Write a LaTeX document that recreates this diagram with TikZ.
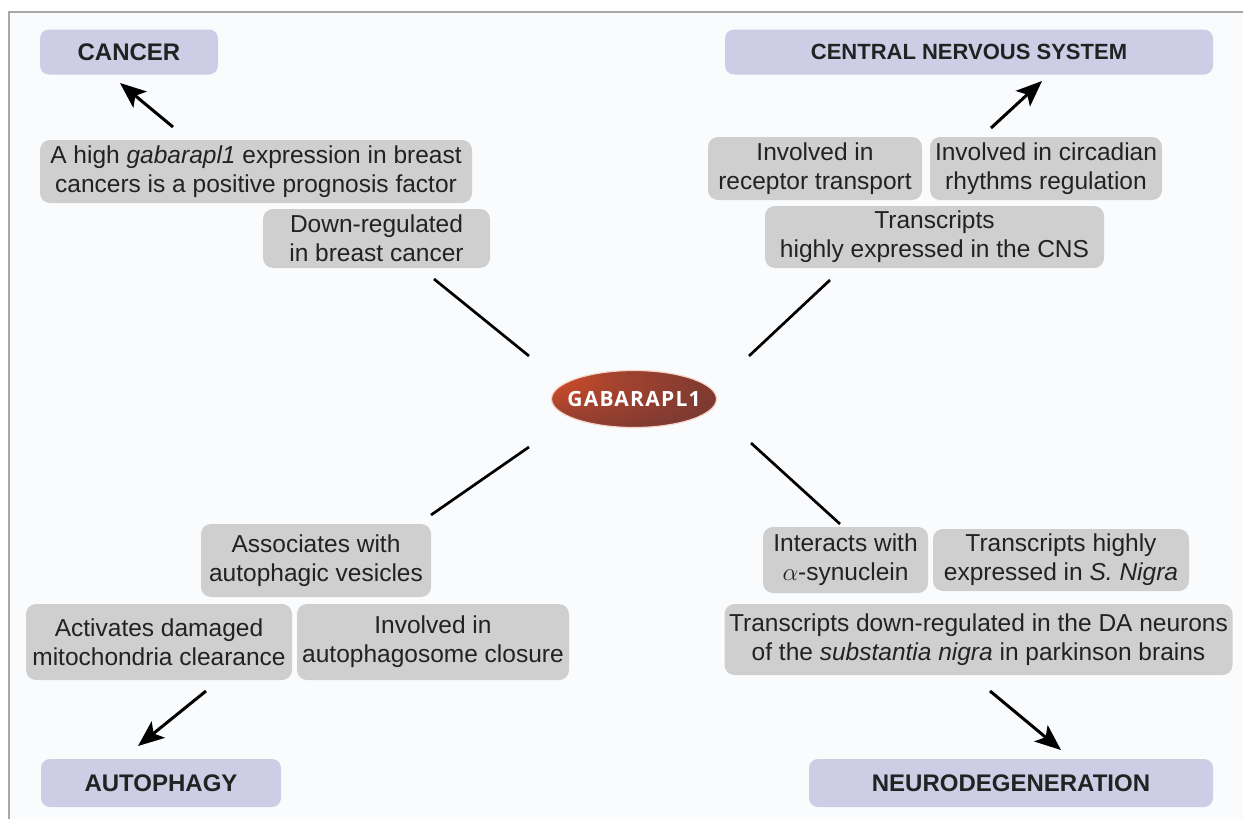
\documentclass[tikz,border=0pt]{standalone}
\usepackage{fontspec}
\setmainfont{Liberation Sans}
\newfontfamily\gabfont[LetterSpace=6]{Open Sans}
\usetikzlibrary{arrows.meta,shapes.geometric}
\definecolor{bg}{HTML}{FAFBFD}
\definecolor{framecol}{HTML}{A8A8A8}
\definecolor{boxgray}{HTML}{CFCFCF}
\definecolor{lav}{HTML}{CDCDE6}
\definecolor{txt}{HTML}{222222}
\definecolor{gabA}{HTML}{DA4E26}
\definecolor{gabB}{HTML}{A4432F}
\definecolor{gabC}{HTML}{7E3A31}
\definecolor{gabD}{HTML}{683330}
\pgfdeclareradialshading{gabshade}{\pgfpoint{-42bp}{22bp}}{color(0bp)=(gabA); color(8bp)=(gabA); color(25bp)=(gabB); color(45bp)=(gabC); color(90bp)=(gabD)}
\begin{document}
\begin{tikzpicture}[x=1pt,y=-1pt,
  gbox/.style={rounded corners=10pt, fill=boxgray, text=txt, align=center, inner sep=0pt, font=\fontsize{24.5}{29}\selectfont},
  hbox/.style={rounded corners=9pt, fill=lav, text=txt, inner sep=0pt, font=\bfseries\fontsize{24}{28}\selectfont},
  arr/.style={line width=3pt, -{Stealth[length=26pt,width=21pt,inset=6pt]}},
  ln/.style={line width=2.7pt}]
\useasboundingbox (0,0) rectangle (1243,819);
\fill[white] (0,0) rectangle (1243,819);
\fill[bg] (9,12) rectangle (1243,819);
\draw[framecol, line width=1.5pt] (9,819) -- (9,12) -- (1243,12);

% headings
\node[hbox, minimum width=178pt, minimum height=45pt] (cancer) at (129,52) {CANCER};
\node[hbox, minimum width=488pt, minimum height=45pt, font=\bfseries\fontsize{22}{26}\selectfont] (cns) at (969,52) {CENTRAL NERVOUS SYSTEM};
\node[hbox, minimum width=240pt, minimum height=48pt] (autoph) at (161,783) {AUTOPHAGY};
\node[hbox, minimum width=404pt, minimum height=48pt] (neuro) at (1011,783) {NEURODEGENERATION};

% centre
\node[ellipse, minimum width=165pt, minimum height=57pt, inner xsep=-9pt, inner ysep=0pt, shading=gabshade, draw=gabA!25, line width=1.2pt,
  text=white, font=\gabfont\bfseries\fontsize{21}{24}\selectfont] (gab) at (634,399) {GABARAPL1};

% cancer side
\node[gbox, minimum width=432pt, minimum height=63pt] (high) at (256,171.5) {A high \textit{gabarapl1} expression in breast\\cancers is a positive prognosis factor};
\node[gbox, minimum width=227pt, minimum height=59pt] (down) at (376.5,238.5) {Down-regulated\\in breast cancer};

% CNS side
\node[gbox, minimum width=214pt, minimum height=63pt] (rec) at (815,168.5) {Involved in\\receptor transport};
\node[gbox, minimum width=232pt, minimum height=63pt] (circ) at (1046,168.5) {Involved in circadian\\rhythms regulation};
\node[gbox, minimum width=339pt, minimum height=62pt] (trns) at (934.5,237) {Transcripts\\highly expressed in the CNS};

% autophagy side
\node[gbox, minimum width=230pt, minimum height=73pt] (assoc) at (316,560.5) {Associates with\\autophagic vesicles};
\node[gbox, minimum width=266pt, minimum height=76pt] (activ) at (159,642) {Activates damaged\\mitochondria clearance};
\node[gbox, minimum width=272pt, minimum height=76pt] (closure) at (433,642) {Involved in\\autophagosome closure};

% neuro side
\node[gbox, minimum width=165pt, minimum height=66pt] (syn) at (845.5,560) {Interacts with\\$\alpha$-synuclein};
\node[gbox, minimum width=256pt, minimum height=62pt] (snig) at (1061,560) {Transcripts highly\\expressed in \textit{S. Nigra}};
\node[gbox, minimum width=508pt, minimum height=71pt] (da) at (978.5,639.5) {Transcripts down-regulated in the DA neurons\\of the \textit{substantia nigra} in parkinson brains};

% connector end points
\coordinate (tlA) at (529,356); \coordinate (tlB) at (434,279);
\coordinate (trA) at (749,356); \coordinate (trB) at (830,280);
\coordinate (blA) at (529,447); \coordinate (blB) at (431,515);
\coordinate (brA) at (751,443); \coordinate (brB) at (840,524);
\coordinate (caS) at (173,127); \coordinate (caE) at (120,83);
\coordinate (cnS) at (991,128); \coordinate (cnE) at (1042,81);
\coordinate (auS) at (206,691); \coordinate (auE) at (138,746);
\coordinate (neS) at (990,691); \coordinate (neE) at (1061,750);

\draw[ln] (tlA) -- (tlB);
\draw[ln] (trA) -- (trB);
\draw[ln] (blA) -- (blB);
\draw[ln] (brA) -- (brB);
\draw[arr] (caS) -- (caE);
\draw[arr] (cnS) -- (cnE);
\draw[arr] (auS) -- (auE);
\draw[arr] (neS) -- (neE);
\end{tikzpicture}
\end{document}
